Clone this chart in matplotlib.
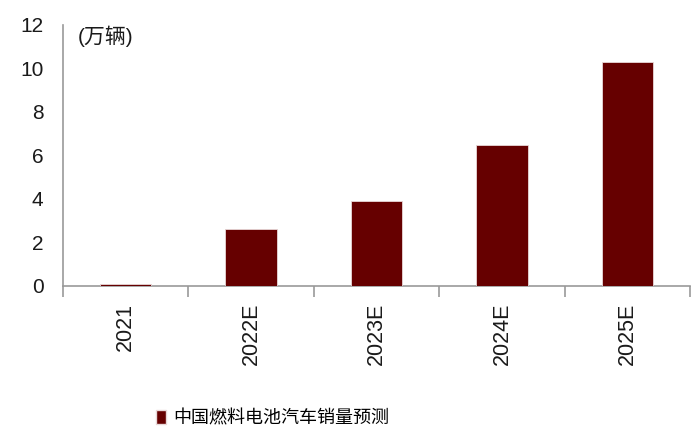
import matplotlib
matplotlib.use("Agg")
import matplotlib.pyplot as plt
from matplotlib.patches import Patch

categories = ["2021", "2022E", "2023E", "2024E", "2025E"]
values = [0.1, 2.6, 3.9, 6.5, 10.3]
yticks = [0, 2, 4, 6, 8, 10, 12]
unit_label = "(万辆)"
series_name = "中国燃料电池汽车销量预测"

plt.rcParams['font.family'] = ['Liberation Sans', 'Noto Sans CJK SC', 'DejaVu Sans']

fig = plt.figure(figsize=(7.0, 4.46), dpi=100)
ax = fig.add_axes([0.09, 0.359, 0.896, 0.585])

bar_color = "#660000"
x = list(range(len(categories)))
ax.bar(x, values, width=0.41, color=bar_color, edgecolor="#e8d8d8", linewidth=0.6, zorder=3)

ax.set_xlim(-0.5, len(categories) - 0.5)
ax.set_ylim(0, 12)
ax.set_yticks(yticks)
ax.set_yticklabels([str(t) for t in yticks], fontsize=15, color="#1a1a1a")
ax.tick_params(axis='y', length=0, pad=14)

ax.set_xticks([i - 0.5 for i in range(len(categories) + 1)])
ax.set_xticklabels([])
ax.set_xticks(x, minor=True)
ax.set_xticklabels(categories, minor=True, rotation=90, fontsize=15.5, color="#1a1a1a")
ax.tick_params(axis='x', which='major', length=8, color="#999999", width=1.2)
ax.tick_params(axis='x', which='minor', length=0, pad=12)

for s in ["top", "right"]:
    ax.spines[s].set_visible(False)
for s in ["left", "bottom"]:
    ax.spines[s].set_color("#999999")
    ax.spines[s].set_linewidth(1.2)

ax.text(0.024, 0.955, unit_label, transform=ax.transAxes, fontsize=15,
        family=['Liberation Sans', 'Noto Sans CJK SC'], color="#1a1a1a", va="center", ha="left")

handles = [Patch(facecolor=bar_color, edgecolor="#e8d8d8", label=series_name)]
fig.legend(handles=handles, loc="center", bbox_to_anchor=(0.39, 0.062), frameon=False,
           handlelength=0.55, handleheight=0.8, handletextpad=0.4,
           prop={'family': ['Noto Sans CJK SC', 'DejaVu Sans'], 'size': 13})

fig.savefig("out.png", dpi=100)
